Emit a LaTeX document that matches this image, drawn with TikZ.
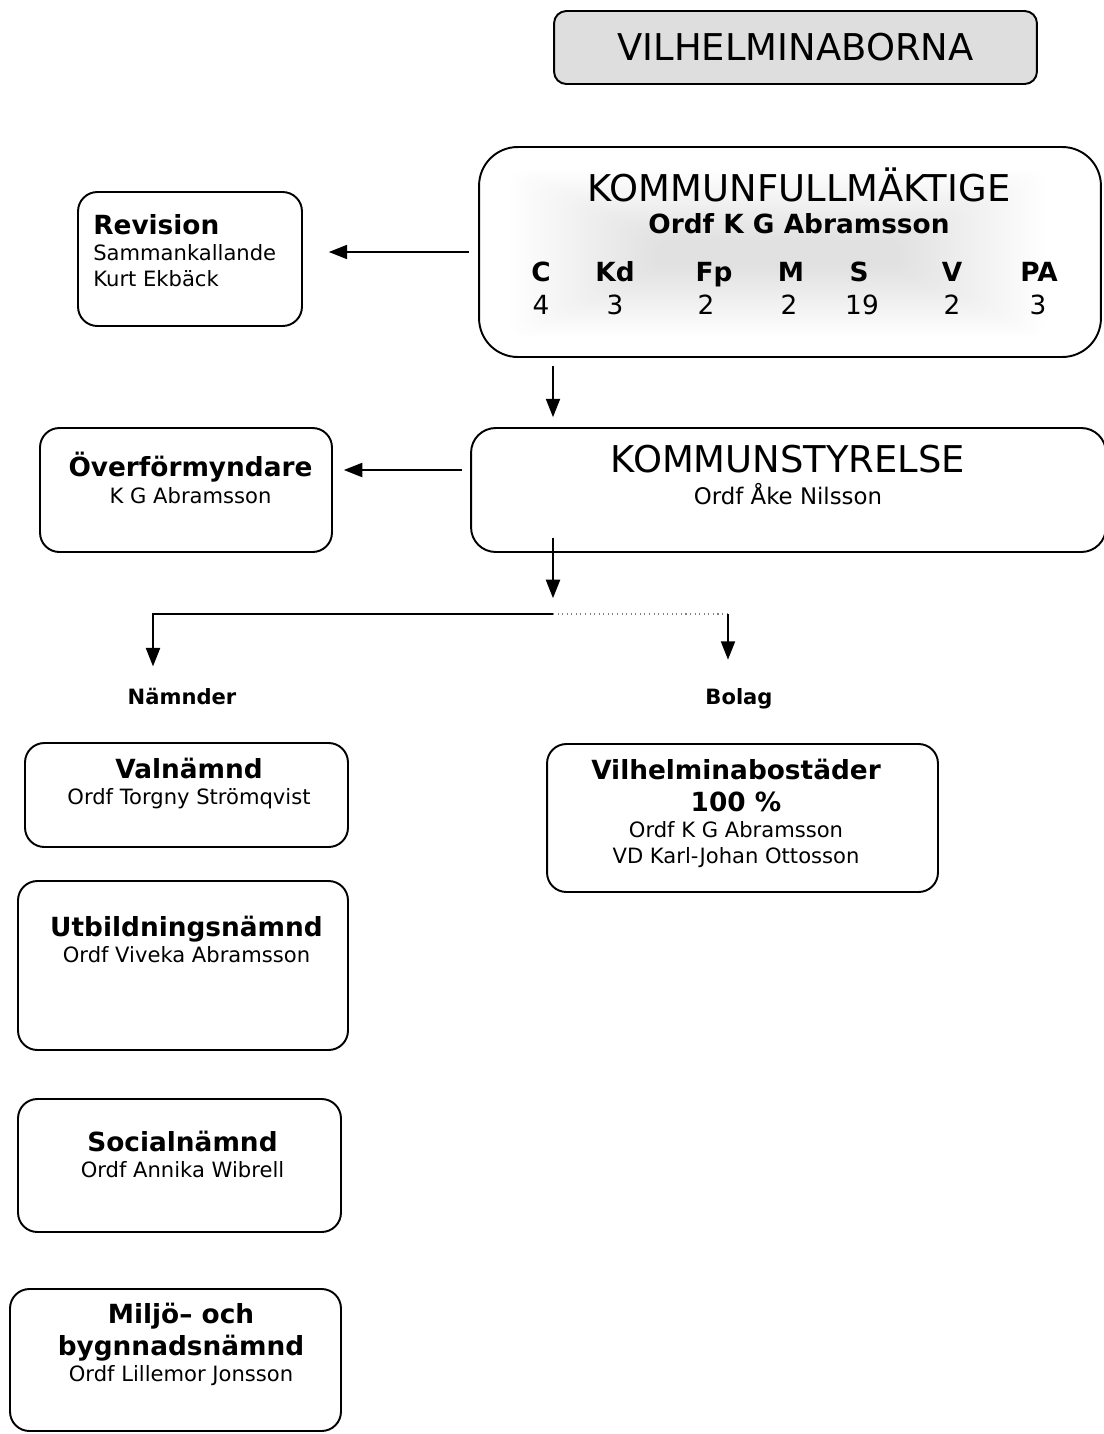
\documentclass[tikz,border=0pt]{standalone}
\usepackage{fontspec}
\setmainfont{DejaVu Sans}
\usetikzlibrary{arrows.meta, positioning, calc}

\newcommand{\titlefont}{\fontsize{21}{25}\selectfont}
\newcommand{\headfont}{\fontsize{15}{18}\selectfont\bfseries}
\newcommand{\namefont}{\fontsize{12}{15}\selectfont}

\begin{document}
\begin{tikzpicture}[
    x=0.02cm, y=-0.02cm,
    >={Triangle[length=10.5pt, width=8pt]},
    box/.style={draw, line width=1.1pt, rounded corners=11pt, inner sep=0pt},
    boxtext/.style={anchor=north, align=center, inner sep=0pt, font=\namefont},
    label/.style={anchor=base, inner sep=0pt, font=\namefont\bfseries},
    signal/.style={->, line width=1.1pt},
    glow/.style={path picture={
        \foreach \k in {0,...,29} {
            \fill [black, opacity=0.004, rounded corners=8pt]
                ($(path picture bounding box.center)+(-280+5*\k,-82+2.4*\k)$) rectangle
                ($(path picture bounding box.center)+(255-5*\k,85-2.4*\k)$);
        }}}
]
    \useasboundingbox (0,0) rectangle (1104,1434);

    % Top levels
    \node [box, rounded corners=7pt, fill=black!13, minimum width=9.66cm, minimum height=1.46cm, font=\titlefont] (vilh) at (795.5,47.5) {VILHELMINABORNA};

    \node [box, glow, rounded corners=22pt, minimum width=12.44cm, minimum height=4.2cm] (kf) at (790,252) {};
    \node [boxtext, font=\fontsize{15}{18.3}\selectfont\bfseries] (kf-t) at (799,167) {{\titlefont\mdseries KOMMUNFULLMÄKTIGE}\\Ordf K G Abramsson};

    % Seats per party
    \foreach \party/\seats/\xp/\xs in {C/4/541/541, Kd/3/615/615, Fp/2/714/706, M/2/791/789, S/19/859/862, V/2/952/952, PA/3/1039/1038} {
        \node [anchor=base, inner sep=0pt, font=\headfont] (party-\party) at (\xp,281.7) {\party};
        \node [anchor=base, inner sep=0pt, font=\fontsize{15}{18}\selectfont] (seats-\party) at (\xs,314.7) {\seats};
    }

    \node [box, rounded corners=14pt, minimum width=12.7cm, minimum height=2.48cm] (ks) at (788.5,490) {};
    \node [boxtext, font=\fontsize{13}{18.5}\selectfont] (ks-t) at (788,444.5) {{\titlefont KOMMUNSTYRELSE}\\Ordf Åke Nilsson};

    % Side boxes
    \node [box, minimum width=4.48cm, minimum height=2.68cm] (rev) at (190,259) {};
    \node [boxtext, anchor=north west, align=left] (rev-t) at (93,213.7) {{\headfont Revision}\\Sammankallande\\Kurt Ekbäck};

    \node [box, minimum width=5.84cm, minimum height=2.48cm] (over) at (186,490) {};
    \node [boxtext] (over-t) at (190.5,452) {{\headfont Överförmyndare}\\K G Abramsson};

    % Arrows
    \coordinate (split) at (553,614);
    \coordinate (nam-drop) at (153,614);
    \coordinate (bol-drop) at (728,614);
    \coordinate (ks-left) at ($(ks.west)+(0,-20)$);

    \draw [signal, shorten <=5pt, shorten >=14.7pt] (kf.west) -- (kf.west -| rev.east);
    \draw [signal, shorten <=4.5pt, shorten >=6.2pt] (ks-left) -- (ks-left -| over.east);
    \draw [signal, shorten <=4.5pt, shorten >=5.6pt] (split |- kf.south) -- (split |- ks.north);
    \draw [signal, shorten >=9pt] ($(split |- ks.south)+(0,-15)$) -- (split);

    \node [label] (namnder) at (182,704.7) {Nämnder};
    \node [label] (bolag) at (739,704.7) {Bolag};

    \draw [signal, shorten >=12.3pt] (split) -- (nam-drop) -- (nam-drop |- namnder.north);
    \draw [dotted, gray, line width=0.6pt] (split) -- (bol-drop);
    \draw [signal, shorten >=16.3pt] (bol-drop) -- (bol-drop |- bolag.north);

    % Nämnder
    \node [box, minimum width=6.46cm, minimum height=2.08cm] (valn) at (186.5,795) {};
    \node [boxtext] (valn-t) at (189,757.7) {{\headfont Valnämnd}\\Ordf Torgny Strömqvist};

    \node [box, minimum width=6.6cm, minimum height=3.38cm] (utb) at (183,965.5) {};
    \node [boxtext] (utb-t) at (186.5,915.7) {{\headfont Utbildningsnämnd}\\Ordf Viveka Abramsson};

    \node [box, minimum width=6.46cm, minimum height=2.66cm] (soc) at (179.5,1165.5) {};
    \node [boxtext] (soc-t) at (182.5,1130.7) {{\headfont Socialnämnd}\\Ordf Annika Wibrell};

    \node [box, minimum width=6.62cm, minimum height=2.84cm] (miljo) at (175.5,1360) {};
    \node [boxtext] (miljo-t) at (181,1302.7) {{\headfont Miljö– och}\\[3pt]{\headfont bygnnadsnämnd}\\Ordf Lillemor Jonsson};

    % Bolag
    \node [box, minimum width=7.82cm, minimum height=2.96cm] (bost) at (742.5,818) {};
    \node [boxtext] (bost-t) at (736,758.7) {{\headfont Vilhelminabostäder}\\[3pt]{\headfont 100 \%}\\Ordf K G Abramsson\\VD Karl-Johan Ottosson};

\end{tikzpicture}
\end{document}
